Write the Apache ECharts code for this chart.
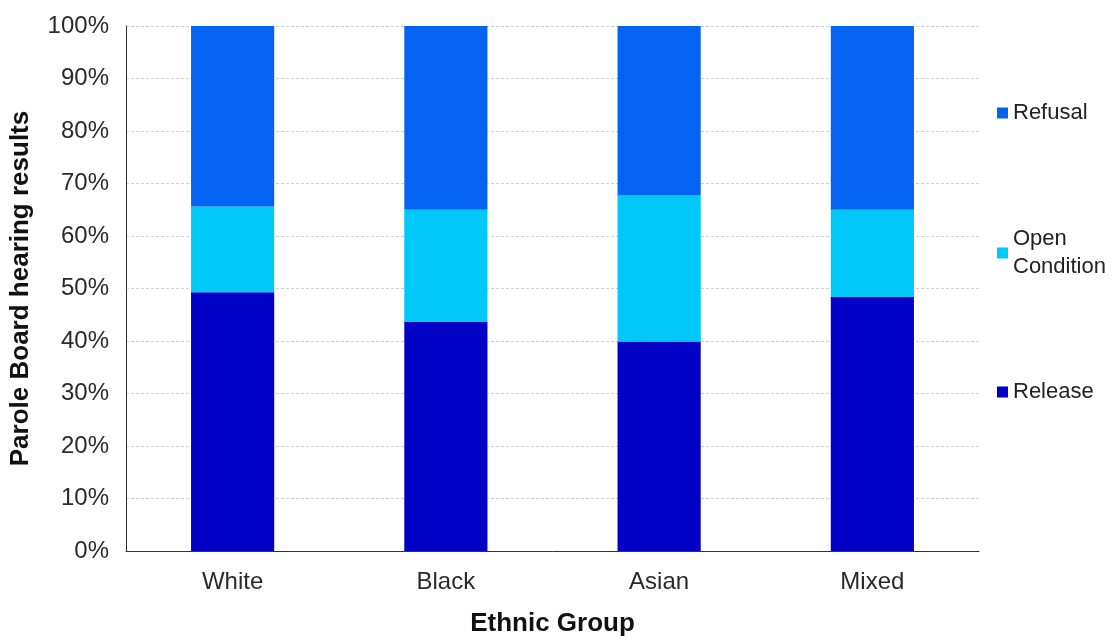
<!DOCTYPE html>
<html>
<head>
<meta charset="utf-8">
<script src="https://cdn.jsdelivr.net/npm/echarts@6/dist/echarts.min.js"></script>
<style>html,body{margin:0;padding:0;background:#fff;}#c{width:1118px;height:642px;}</style>
</head>
<body>
<div id="c"></div>
<script>
const categories = ['White', 'Black', 'Asian', 'Mixed'];
const release = [49.3, 43.6, 39.9, 48.4];
const openCondition = [16.3, 21.4, 27.8, 16.6];
const refusal = [34.4, 35.0, 32.3, 35.0];
const yTicks = [0, 10, 20, 30, 40, 50, 60, 70, 80, 90, 100];

const FONT = 'Liberation Sans';
const chart = echarts.init(document.getElementById('c'), null, {renderer: 'canvas'});
const legendText = {fontFamily: FONT, fontSize: 22, color: '#222', lineHeight: 28};
function legendFor(name, top, extra) {
  return Object.assign({
    orient: 'vertical', left: 997, top: top, padding: 0,
    itemWidth: 11, itemHeight: 11, icon: 'rect',
    selectedMode: false,
    data: [name],
    textStyle: Object.assign({}, legendText)
  }, extra || {});
}
chart.setOption({
  animation: false,
  backgroundColor: '#fff',
  grid: {left: 125, right: 139, top: 26, bottom: 84, containLabel: false},
  legend: [
    legendFor('Refusal', 99),
    legendFor('Open Condition', 211, {
      formatter: function () { return 'Open\nCondition'; },
      textStyle: Object.assign({}, legendText, {padding: [28, 0, 0, 0]})
    }),
    legendFor('Release', 378)
  ],
  xAxis: {
    type: 'category', data: categories,
    name: 'Ethnic Group', nameLocation: 'middle', nameGap: 60,
    nameTextStyle: {fontFamily: FONT, fontSize: 26, fontWeight: 'bold', color: '#111'},
    axisLine: {lineStyle: {color: '#333', width: 1}},
    axisTick: {show: false},
    axisLabel: {fontFamily: FONT, fontSize: 24, color: '#2a2a2a', margin: 19}
  },
  yAxis: {
    type: 'value', min: 0, max: 100, interval: 10,
    name: 'Parole Board hearing results', nameLocation: 'middle', nameGap: 92, nameRotate: 90,
    nameTextStyle: {fontFamily: FONT, fontSize: 26, fontWeight: 'bold', color: '#111'},
    axisLine: {show: true, lineStyle: {color: '#333', width: 1}},
    axisTick: {show: false},
    axisLabel: {fontFamily: FONT, fontSize: 24, color: '#2a2a2a', margin: 17,
      formatter: function (v) { return yTicks.indexOf(v) >= 0 ? v + '%' : ''; }},
    splitLine: {show: true, lineStyle: {color: '#d0d0d0', width: 1, type: [3, 2]}}
  },
  series: [
    {name: 'Release', type: 'bar', stack: 'all', data: release, barWidth: '39%', itemStyle: {color: '#0000C6'}},
    {name: 'Open Condition', type: 'bar', stack: 'all', data: openCondition, itemStyle: {color: '#00C8F8'}},
    {name: 'Refusal', type: 'bar', stack: 'all', data: refusal, itemStyle: {color: '#0563F4'}}
  ]
});
</script>
</body>
</html>
